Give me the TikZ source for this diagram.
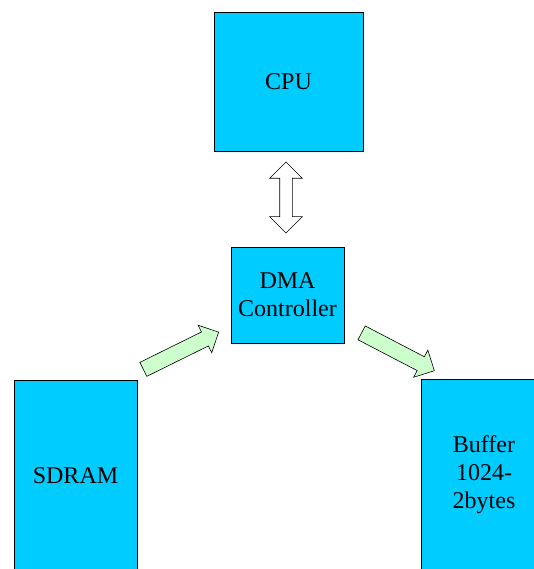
\documentclass[tikz,border=0pt]{standalone}
\usepackage{fontspec}
\setmainfont{Liberation Serif}
\usetikzlibrary{shapes.arrows}

\definecolor{unitblue}{RGB}{0,204,255}
\definecolor{flowgreen}{RGB}{204,255,204}

\begin{document}
\begin{tikzpicture}[x=1pt,y=1pt,
  unit/.style={draw,rectangle,fill=unitblue,line width=.8pt,
    align=center,font=\fontsize{24}{28}\selectfont},
  flow/.style={draw,single arrow,fill=flowgreen,line width=.6pt,
    inner sep=7.5pt,minimum width=30pt,single arrow head extend=7.5pt},
  bus/.style={draw,double arrow,fill=white,line width=.6pt,
    inner sep=6pt,minimum width=32pt,double arrow head extend=10pt}]
\useasboundingbox (0,0) rectangle (534,569);
\clip (0,0) rectangle (534,569);
\node (cpu) at (288.5,487.5)
  [unit,minimum width=149pt,minimum height=139pt] {CPU};
\node (dma) at (287.5,274)
  [unit,minimum width=113pt,minimum height=96pt] {DMA\\Controller};
\node (sdram) at (75.5,93)
  [unit,minimum width=123pt,minimum height=192pt] {SDRAM};
\node (buf) at (484,94)
  [unit,minimum width=126pt,minimum height=192pt] {Buffer\\1024-\\2bytes};
% data path
\node (bus) at (286,371.5) [bus,minimum height=71pt,rotate=90] {};
\node (rd) at (177.5,216.5) [flow,minimum height=84pt,rotate=26.3] {};
\node (wr) at (394.5,219) [flow,minimum height=82pt,rotate=-27.5] {};
\end{tikzpicture}
\end{document}
